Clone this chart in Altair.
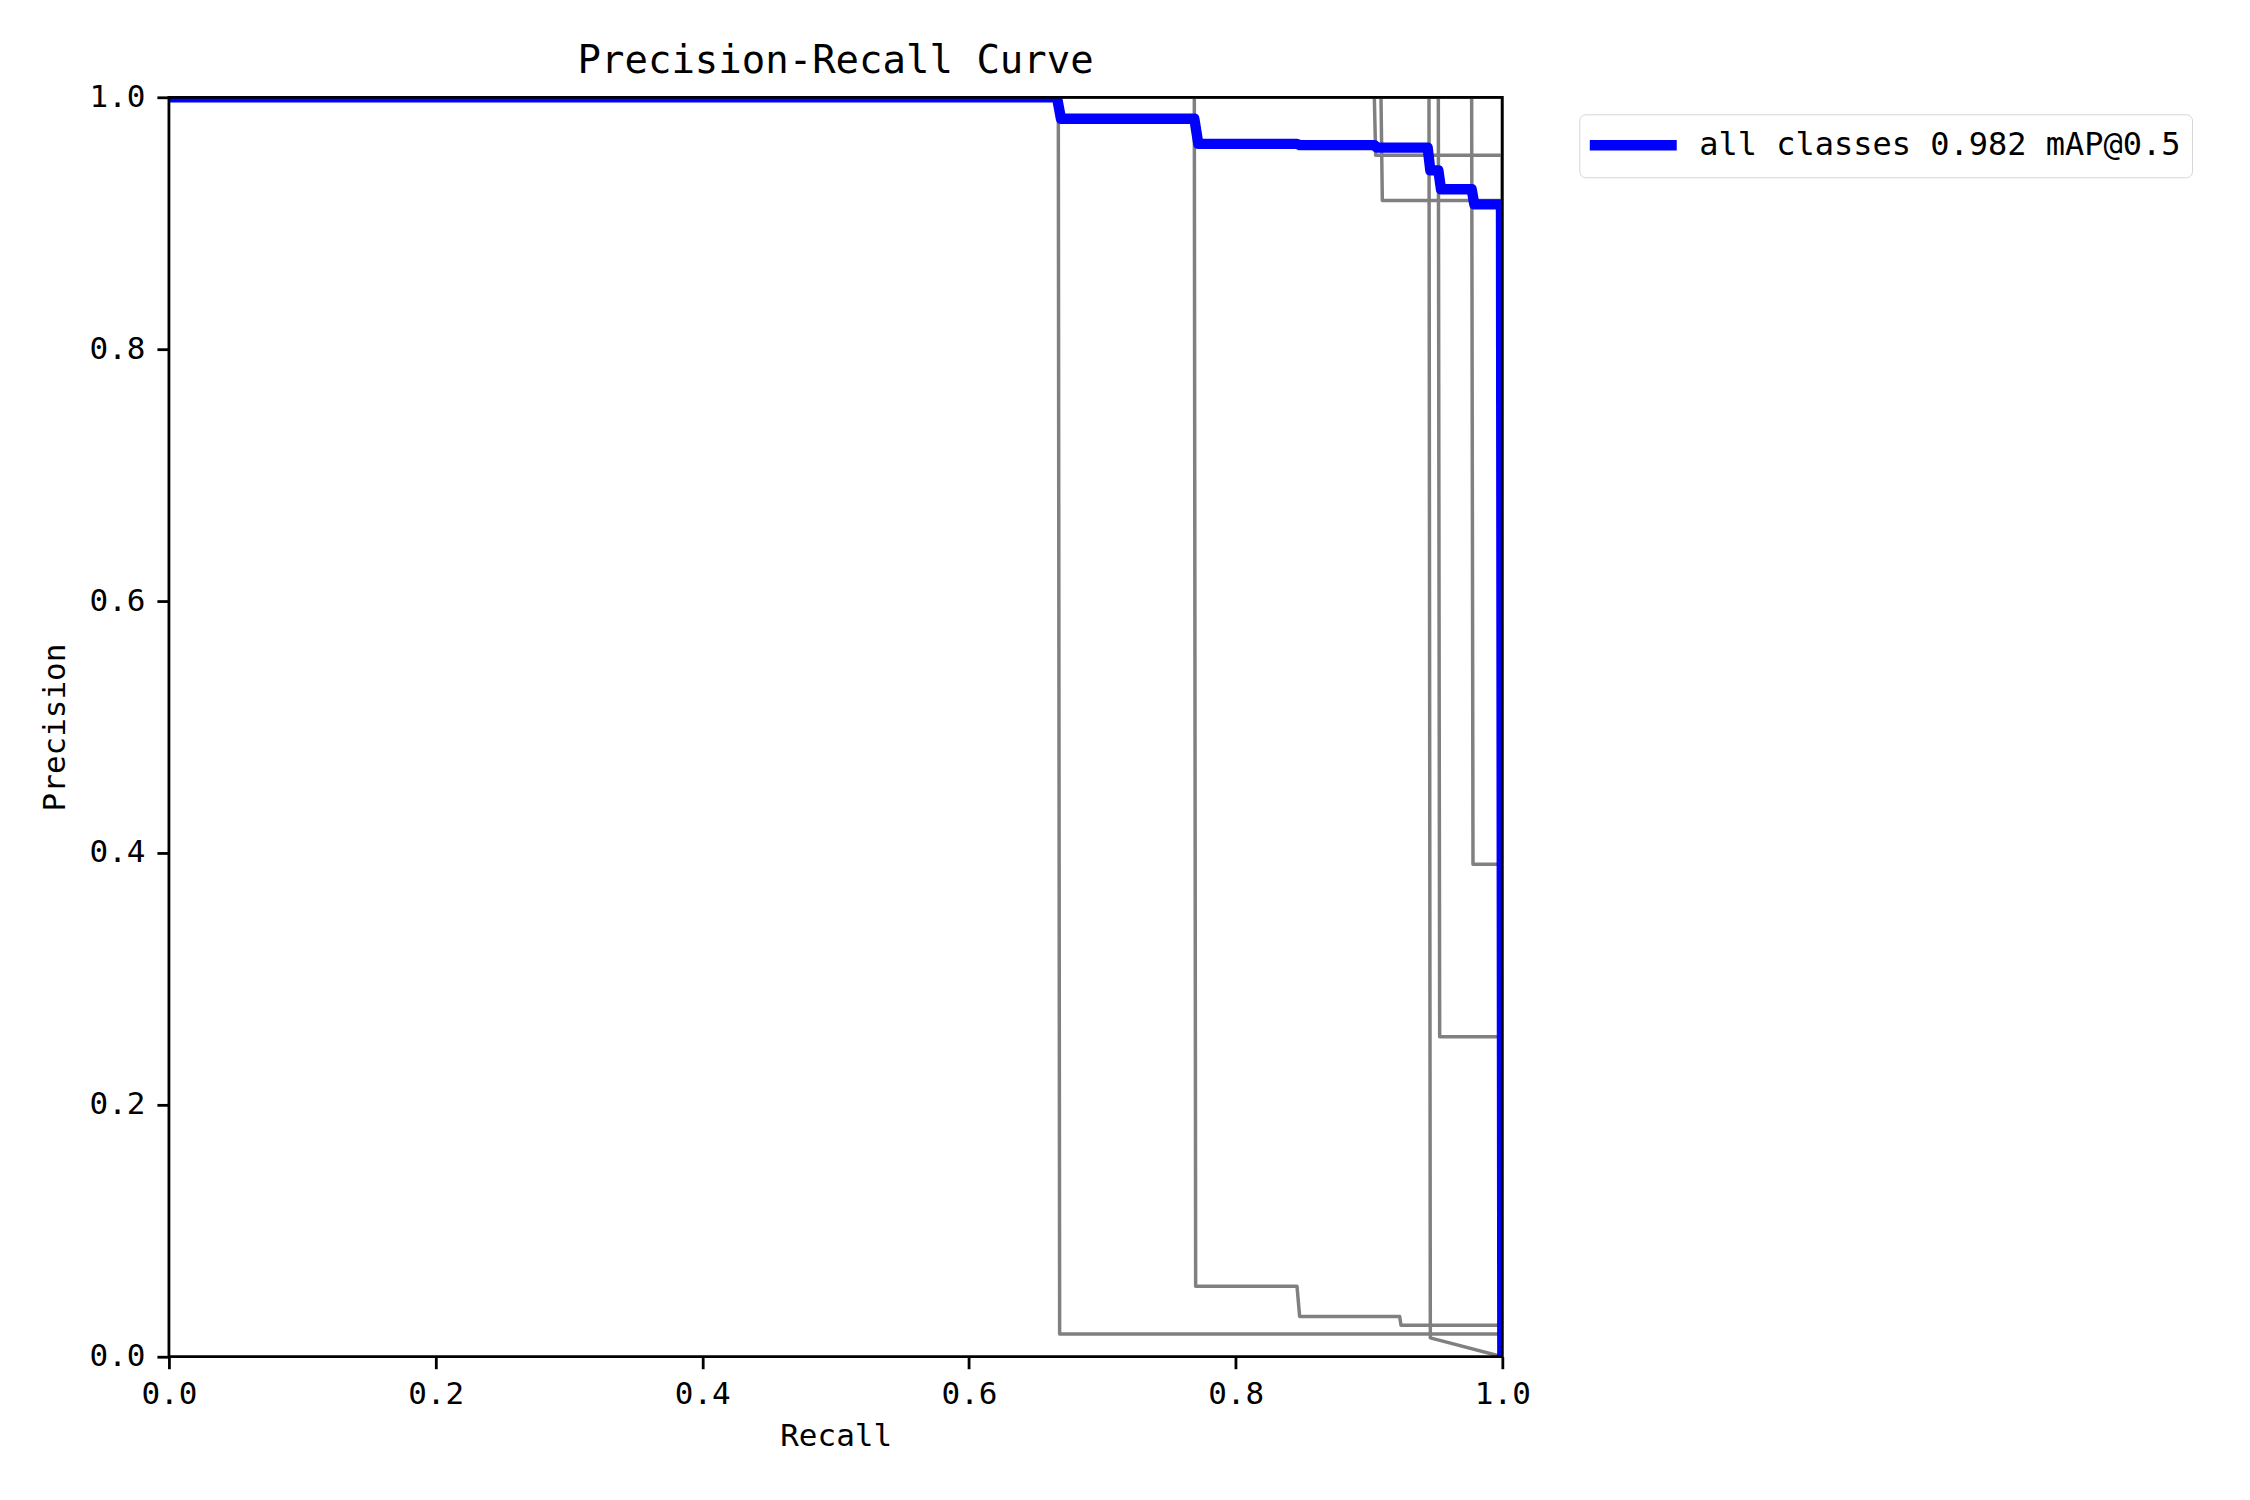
import pandas as pd
import altair as alt

# per-class precision/recall curves (grey lines)
perfect_recall = [0.0, 1.0, 1.0]
perfect_precision = [1.0, 1.0, 0.0]

cls_a_recall = [0.0, 0.667, 0.668, 1.0, 1.0]
cls_a_precision = [1.0, 1.0, 0.018, 0.018, 0.0]

cls_b_recall = [0.0, 0.769, 0.770, 0.846, 0.848, 0.923, 0.924, 1.0, 1.0]
cls_b_precision = [1.0, 1.0, 0.056, 0.056, 0.032, 0.032, 0.025, 0.025, 0.0]

cls_c_recall = [0.0, 0.904, 0.905, 1.0, 1.0]
cls_c_precision = [1.0, 1.0, 0.954, 0.954, 0.0]

cls_d_recall = [0.0, 0.909, 0.910, 1.0, 1.0]
cls_d_precision = [1.0, 1.0, 0.918, 0.918, 0.0]

cls_e_recall = [0.0, 0.945, 0.946, 1.0]
cls_e_precision = [1.0, 1.0, 0.015, 0.0]

cls_f_recall = [0.0, 0.952, 0.953, 1.0, 1.0]
cls_f_precision = [1.0, 1.0, 0.254, 0.254, 0.0]

cls_g_recall = [0.0, 0.977, 0.978, 1.0, 1.0]
cls_g_precision = [1.0, 1.0, 0.391, 0.391, 0.0]

# mean over all classes (blue line)
all_recall = [0.0, 0.666, 0.669, 0.769, 0.772, 0.846, 0.848, 0.904, 0.906,
              0.944, 0.946, 0.952, 0.954, 0.977, 0.979, 0.999, 1.0]
all_precision = [1.0, 1.0, 0.983, 0.983, 0.963, 0.963, 0.962, 0.962, 0.960,
                 0.960, 0.942, 0.942, 0.927, 0.927, 0.915, 0.915, 0.0]
all_label = "all classes 0.982 mAP@0.5"

W, H = 1334, 1260
FONT = "DejaVu Sans Mono"

curves = {
    "perfect": (perfect_recall, perfect_precision),
    "a": (cls_a_recall, cls_a_precision),
    "b": (cls_b_recall, cls_b_precision),
    "c": (cls_c_recall, cls_c_precision),
    "d": (cls_d_recall, cls_d_precision),
    "e": (cls_e_recall, cls_e_precision),
    "f": (cls_f_recall, cls_f_precision),
    "g": (cls_g_recall, cls_g_precision),
}
rows = []
for name, (rec, prec) in curves.items():
    for i, (r, p) in enumerate(zip(rec, prec)):
        rows.append({"cls": name, "i": i, "recall": r, "precision": p})
grey_df = pd.DataFrame(rows)

all_df = pd.DataFrame({
    "i": range(len(all_recall)),
    "recall": all_recall,
    "precision": all_precision,
    "series": all_label,
})

ticks = [0, 0.2, 0.4, 0.6, 0.8, 1.0]
x_enc = alt.X("recall:Q", title="Recall",
              scale=alt.Scale(domain=[0, 1], nice=False, zero=False),
              axis=alt.Axis(values=ticks, format=".1f", labelFlush=False))
y_enc = alt.Y("precision:Q", title="Precision",
              scale=alt.Scale(domain=[0, 1], nice=False, zero=False),
              axis=alt.Axis(values=ticks, format=".1f", labelFlush=False,
                            titlePadding=17))

grey = alt.Chart(grey_df).mark_line(
    color="#808080", strokeWidth=3.5, clip=True, strokeJoin="round"
).encode(x=x_enc, y=y_enc, detail="cls:N", order="i:Q")

# legend line: a long stroke drawn from a custom path so the row stays short
blue = alt.Chart(all_df).mark_line(
    strokeWidth=10.4, clip=True, strokeJoin="round"
).encode(
    x=x_enc, y=y_enc, order="i:Q",
    color=alt.Color("series:N", title=None,
                    scale=alt.Scale(domain=[all_label], range=["#0000ff"]),
                    legend=alt.Legend(
                        orient="none", legendX=1411, legendY=17,
                        symbolType="M-3,0H3", symbolSize=841,
                        symbolOffset=23, symbolStrokeWidth=10.4,
                        labelFont=FONT, labelFontSize=32, labelColor="black",
                        labelOffset=46, labelLimit=0,
                        padding=11, fillColor="white", strokeColor="#d6d6d6",
                        cornerRadius=6)),
)

# axes frame drawn above the curves, like matplotlib spines
frame = alt.Chart(pd.DataFrame({"k": [0]})).mark_rect(
    filled=False, stroke="black", strokeWidth=2.8
).encode(x=alt.value(0), x2=alt.value(W), y=alt.value(0), y2=alt.value(H))

chart = alt.layer(grey, blue, frame).properties(
    width=W, height=H,
    title=alt.Title("Precision-Recall Curve", font=FONT, fontSize=39,
                    fontWeight="normal", anchor="middle", color="black",
                    baseline="alphabetic", offset=20, dy=51),
    autosize=alt.AutoSizeParams(type="none"),
    padding={"left": 161, "top": 89, "right": 740, "bottom": 120},
).configure_view(stroke=None).configure_axis(
    domain=False, grid=False, tickSize=12, tickWidth=2.8, tickColor="black",
    labelFont=FONT, labelFontSize=31, labelColor="black", labelPadding=11,
    titleFont=FONT, titleFontSize=31, titleFontWeight="normal",
    titleColor="black", titlePadding=12,
).configure_axisY(labelPadding=12)

chart.save("out.html", embed_options={"renderer": "svg", "actions": False})
